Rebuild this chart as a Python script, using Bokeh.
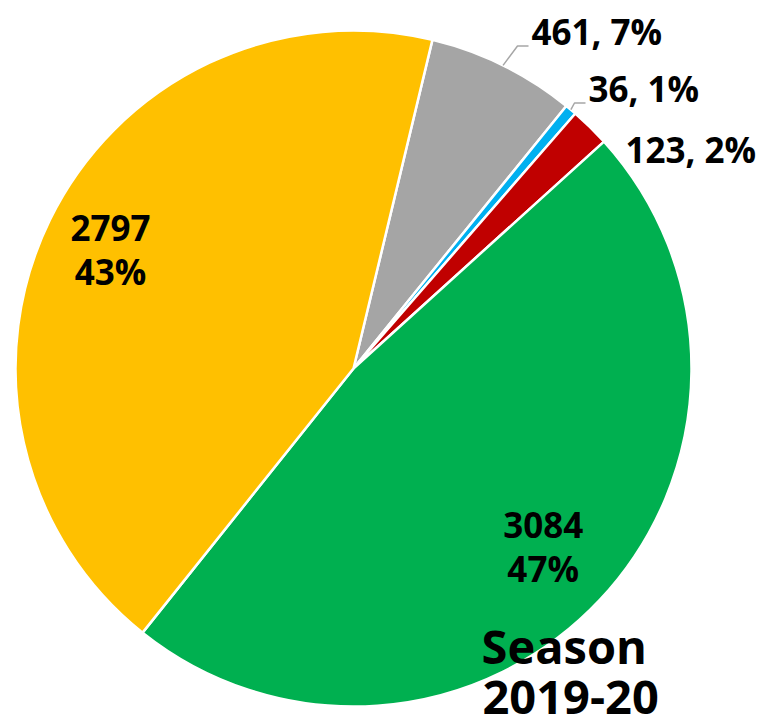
import math
from bokeh.plotting import figure
from bokeh.models import Range1d, ColumnDataSource
from bokeh.core.properties import value
from bokeh.embed import file_html
from bokeh.resources import INLINE

# ---- data (clockwise order, starting near 12 o'clock) ----
categories = ["Grey", "Blue", "Red", "Green", "Yellow"]
values = [461, 36, 123, 3084, 2797]
colors = ["#A5A5A5", "#00B0F0", "#C00000", "#00B050", "#FFC000"]
title_lines = ["Season", "2019-20"]

# ---- layout (screen pixel coordinates of the 766x720 page) ----
W, H = 766, 720
CX, CY, R = 353, 368, 338
START_DEG = 13.5          # first slice starts this many degrees clockwise from 12 o'clock
FONT = "Open Sans"


def sy(y):
    """screen y -> data y"""
    return H - y


p = figure(width=W, height=H, output_backend="svg", toolbar_location=None,
           x_range=Range1d(0, W), y_range=Range1d(0, H),
           x_axis_type=None, y_axis_type=None, min_border=0)
p.grid.visible = False
p.outline_line_color = None
p.background_fill_color = "white"
p.border_fill_color = "white"

total = sum(values)
pcts = [v / total * 100 for v in values]
spans = [v / total * 360 for v in values]
starts_cw, cum = [], START_DEG
for s in spans:
    starts_cw.append(cum)
    cum += s
mids_cw = [a + s / 2 for a, s in zip(starts_cw, spans)]

# bokeh angles: counter-clockwise from +x
start_angle = [math.radians(90 - (a + s)) for a, s in zip(starts_cw, spans)]
end_angle = [math.radians(90 - a) for a in starts_cw]

src = ColumnDataSource(dict(cat=categories, val=values, color=colors,
                            start=start_angle, end=end_angle))
p.wedge(x=CX, y=sy(CY), radius=R, start_angle="start", end_angle="end",
        fill_color="color", line_color="white", line_width=2.5, source=src)


def edge_point(theta_deg, frac=1.0):
    t = math.radians(theta_deg)
    return CX + frac * R * math.sin(t), CY - frac * R * math.cos(t)


txt_kw = dict(text_font=value(FONT), text_font_style="bold", text_color="black",
              text_baseline="middle")

# ---- outside labels (grey, blue, red): left x, vertical centre ----
outside = {0: (531, 30.5, True), 1: (588, 87.5, True), 2: (625, 149, False)}
for i, (lx, lc, leader) in outside.items():
    label = f"{values[i]}, {round(pcts[i])}%"
    p.text(x=[lx], y=[sy(lc)], text=[label], text_align="left",
           text_font_size="35px", **txt_kw)
    if leader:
        ex, ey = edge_point(mids_cw[i])
        end_x = lx - 3
        elb_x, elb_y = end_x - 11, lc + 15
        p.line(x=[ex, elb_x, end_x], y=[sy(ey), sy(elb_y), sy(elb_y)],
               line_color="#A6A6A6", line_width=1.5)

# ---- inside labels (green, yellow) ----
inside = {3: 0.77, 4: 0.80}
for i, frac in inside.items():
    ax, ay = edge_point(mids_cw[i], frac)
    p.text(x=[ax, ax], y=[sy(ay - 22), sy(ay + 22)],
           text=[str(values[i]), f"{round(pcts[i])}%"],
           text_align="center", text_font_size="35px", **txt_kw)

# ---- season title ----
p.text(x=[481, 482], y=[sy(645), sy(697)], text=title_lines,
       text_align="left", text_font_size="47px", **txt_kw)

open("out.html", "w").write(file_html(p, INLINE))
